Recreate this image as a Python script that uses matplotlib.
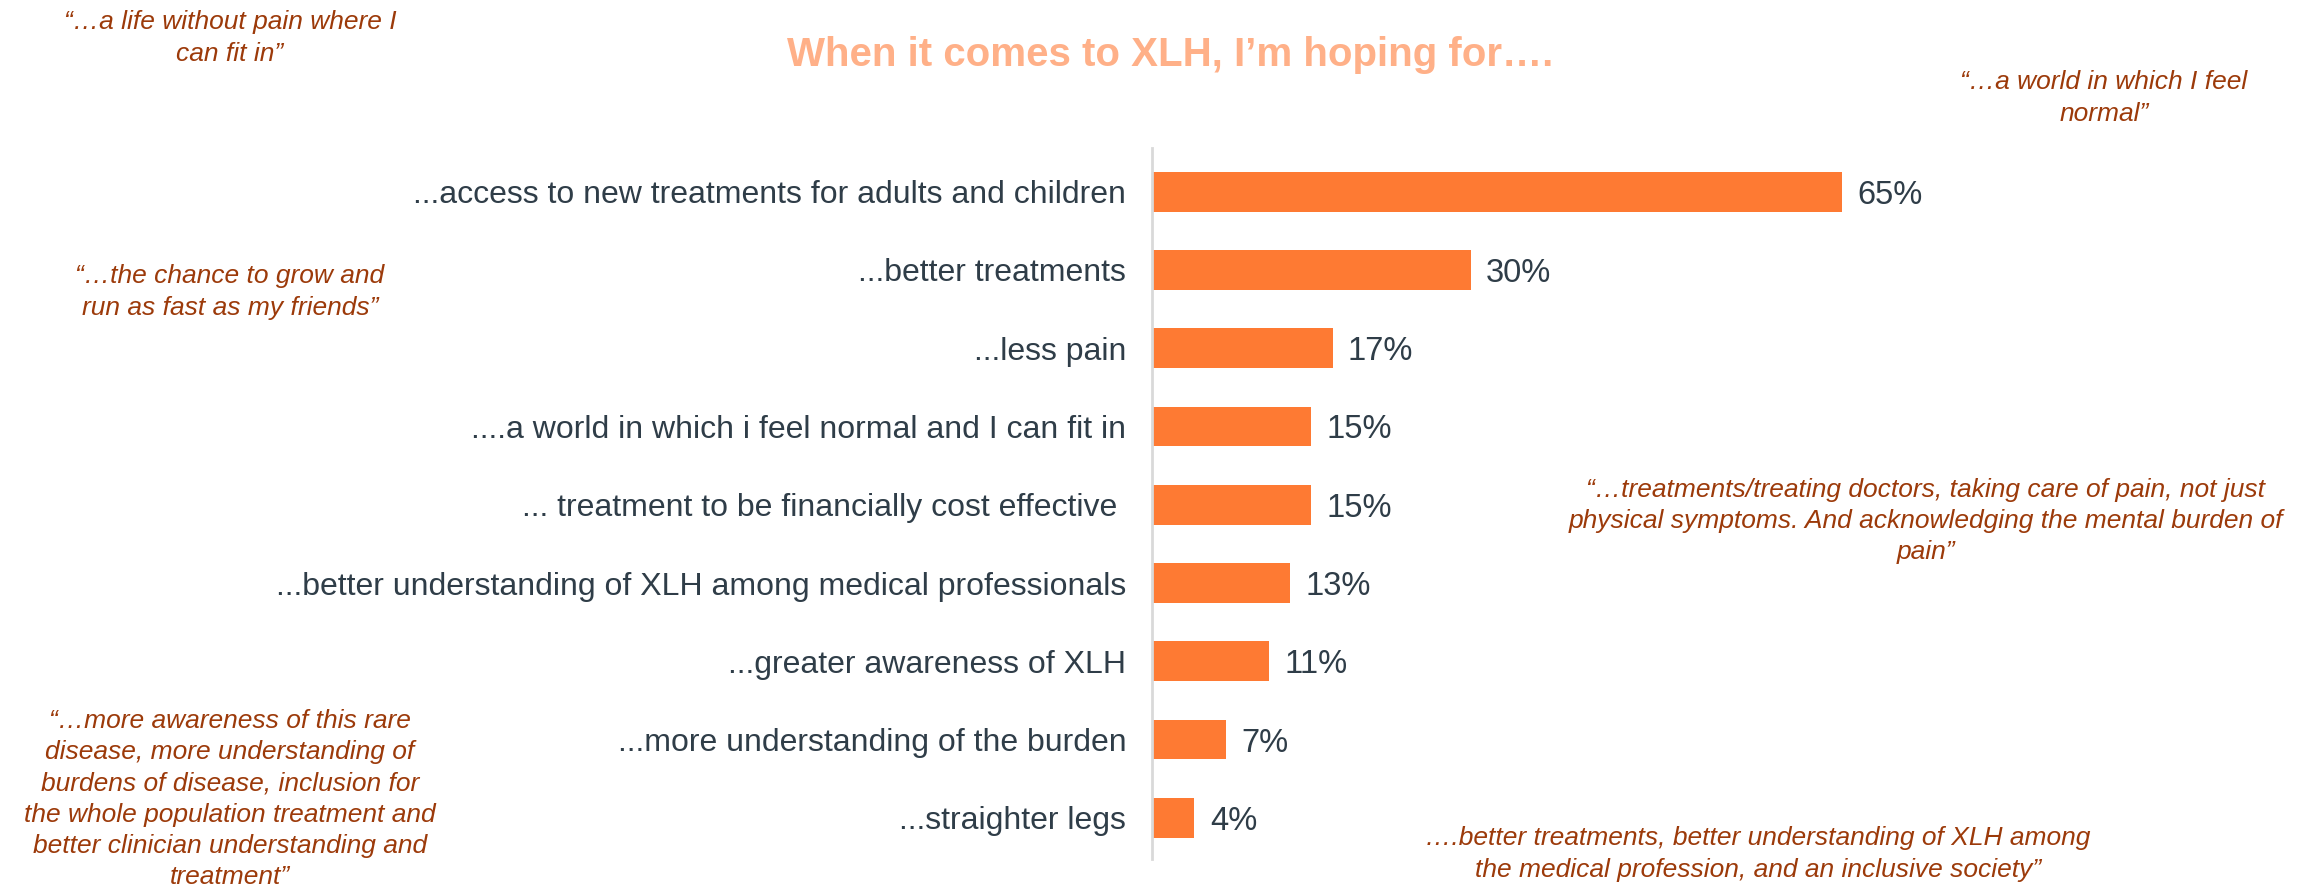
import numpy as np
import matplotlib.pyplot as plt

plt.rcParams['font.family'] = ['Liberation Sans', 'DejaVu Sans']

# data
categories = [
    "...access to new treatments for adults and children",
    "...better treatments",
    "...less pain",
    "....a world in which i feel normal and I can fit in",
    "... treatment to be financially cost effective ",
    "...better understanding of XLH among medical professionals",
    "...greater awareness of XLH",
    "...more understanding of the burden",
    "...straighter legs",
]
values = [65, 30, 17, 15, 15, 13, 11, 7, 4]

title = "When it comes to XLH, I\u2019m hoping for\u2026."

quotes = [
    "\u201c\u2026a life without pain where I\ncan fit in\u201d",
    "\u201c\u2026a world in which I feel\nnormal\u201d",
    "\u201c\u2026the chance to grow and\nrun as fast as my friends\u201d",
    "\u201c\u2026treatments/treating doctors, taking care of pain, not just\n"
    "physical symptoms. And acknowledging the mental burden of\npain\u201d",
    "\u201c\u2026more awareness of this rare\ndisease, more understanding of\n"
    "burdens of disease, inclusion for\nthe whole population treatment and\n"
    "better clinician understanding and\ntreatment\u201d",
    "\u2026.better treatments, better understanding of XLH among\n"
    "the medical profession, and an inclusive society\u201d",
]
# quote centres in pixels (x, y from top)
quote_pos = [(230, 38), (2104, 98), (230, 292), (1926, 521), (230, 799), (1758, 854)]

W, H = 2323, 890
BAR = "#FE7A33"
LABEL = "#2F3D48"
QUOTE = "#9C3A0A"
TITLE = "#FFB088"

fig = plt.figure(figsize=(W / 100, H / 100), dpi=100)
ax_left, ax_top, ax_bot = 1152, 148, 859
px_per_pct = 10.62
xmax = 100
ax = fig.add_axes([ax_left / W, 1 - ax_bot / H, xmax * px_per_pct / W, (ax_bot - ax_top) / H])

y = np.arange(len(categories))
ax.barh(y, values, height=0.51, color=BAR)
ax.set_xlim(0, xmax)
ax.set_ylim(8.527, -0.559)
ax.set_yticks(y)
ax.set_yticklabels(categories, fontsize=23, color=LABEL)
ax.tick_params(axis='y', length=0, pad=18.5)
ax.set_xticks([])
for s in ['top', 'right', 'bottom']:
    ax.spines[s].set_visible(False)
ax.spines['left'].set_color('#D9D9D9')
ax.spines['left'].set_linewidth(2)

for yi, v in zip(y, values):
    ax.annotate(f"{v}%", (v, yi), xytext=(11, 0), textcoords='offset points',
                va='center_baseline', ha='left', fontsize=23.5, color=LABEL)

fig.text(1170 / W, 1 - 55 / H, title, ha='center', va='center',
         fontsize=29, fontweight='bold', color=TITLE)

for q, (qx, qy) in zip(quotes, quote_pos):
    fig.text(qx / W, 1 - qy / H, q, ha='center', va='center', multialignment='center',
             fontsize=19, style='italic', color=QUOTE, linespacing=1.38)

fig.savefig("out.png", dpi=100)
